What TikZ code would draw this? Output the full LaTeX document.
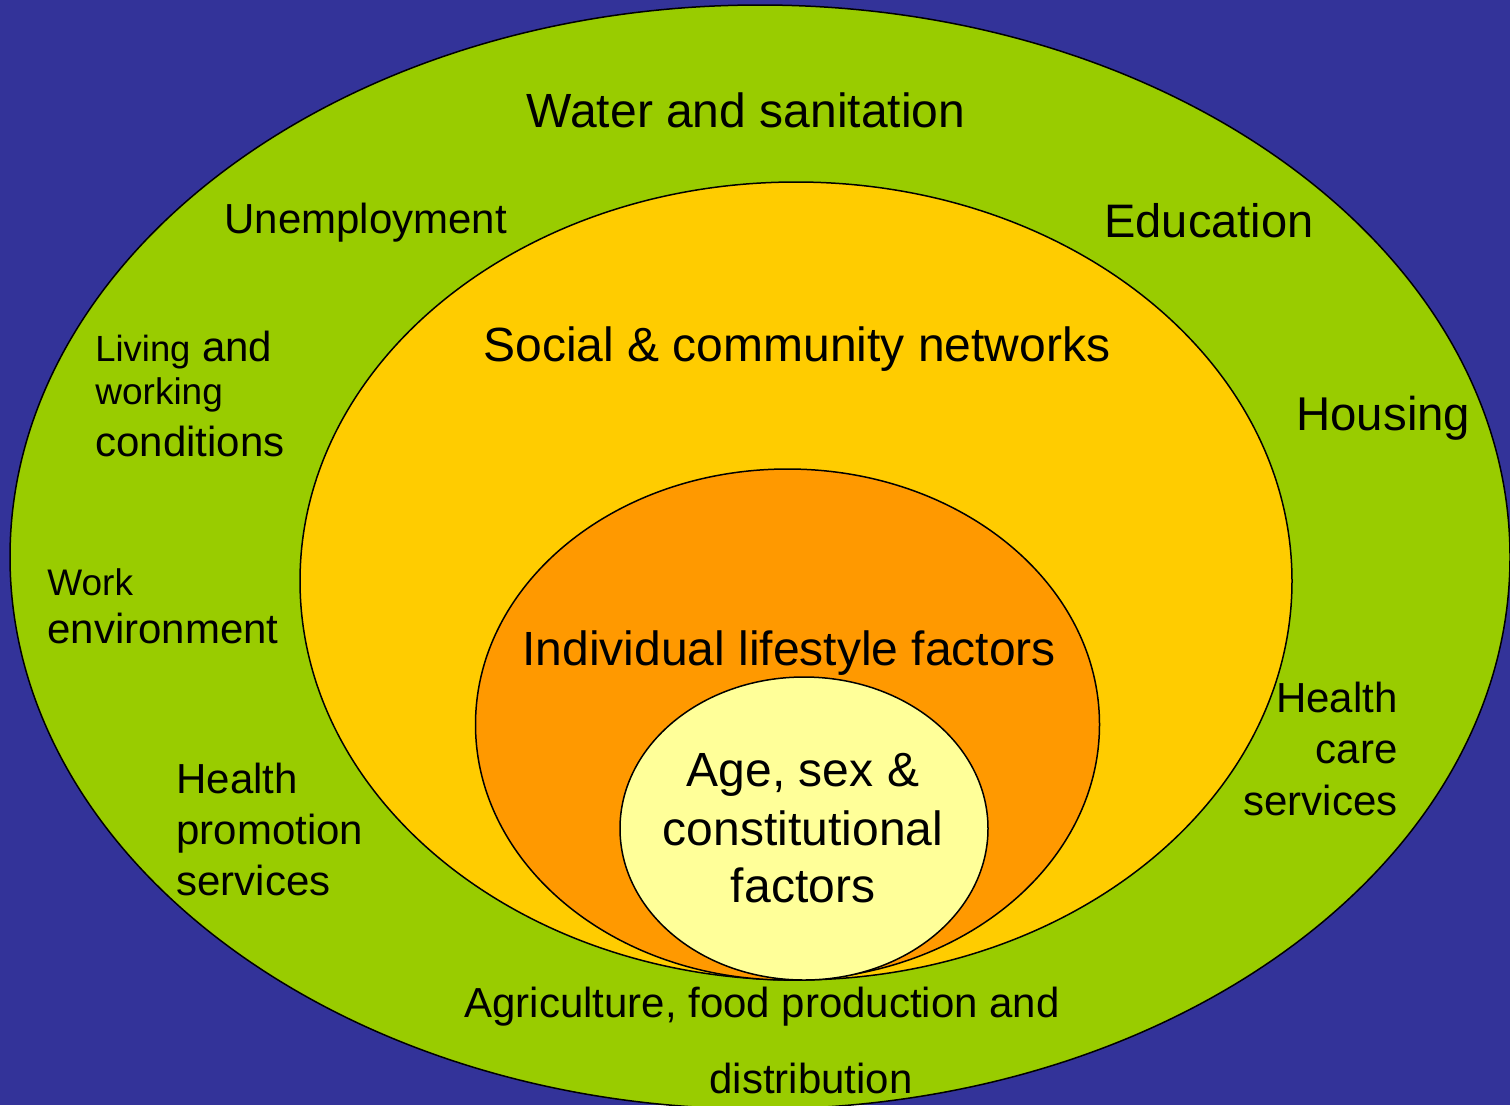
\documentclass[tikz,border=0pt]{standalone}
\usepackage{fontspec}
\setmainfont{Liberation Sans}
\usepackage{tikz}
\usepackage{xcolor}
\usetikzlibrary{
    shapes.geometric,
    positioning
}
\definecolor{bgblue}{HTML}{333399}
\definecolor{outgreen}{HTML}{99CC00}
\definecolor{midyellow}{HTML}{FFCC00}
\definecolor{inorange}{HTML}{FF9900}
\definecolor{coreyellow}{HTML}{FFFF99}
\newcommand{\fs}[2]{\fontsize{#1}{#2}\selectfont}

\begin{document}
\begin{tikzpicture}[x=0.5pt, y=-0.5pt,
        ring/.style={ellipse, draw=black, line width=0.75pt, inner sep=0pt},
        lbl/.style={inner sep=0pt, text=black}]
                        \useasboundingbox (0,0) rectangle (1510,1105);
                        \clip (0,0) rectangle (1510,1105);
                        \fill[bgblue] (0,0) rectangle (1510,1105);

                        \node[ring, fill=outgreen, minimum width=750pt, minimum height=552pt] (outer) at (760,557) {};
                        \node[ring, fill=midyellow, minimum width=496pt, minimum height=399pt] (comm) at (796,581) {};
                        \node[ring, fill=inorange, minimum width=312pt, minimum height=255.5pt] (life) at (787.5,724.5) {};
                        \node[ring, fill=coreyellow, minimum width=184pt, minimum height=151.5pt] (core) at (804,828.5) {};

                        % multi-line labels sit on the baseline of their last line
                        \node[lbl, anchor=base, font=\fs{24}{28}] (water) at (746,127) {Water and sanitation};
                        \node[lbl, anchor=base west, font=\fs{21}{25}] (unemp) at (224,233) {Unemployment};
                        \node[lbl, anchor=base west, font=\fs{23.5}{28}] (educ) at (1104,237) {Education};
                        \node[lbl, anchor=base west, font=\fs{24}{28}] (social) at (483,361) {Social \& community networks};
                        \node[lbl, anchor=base west, font=\fs{23.7}{28}] (housing) at (1296,430) {Housing};
                        \node[lbl, anchor=base west, font=\fs{21}{21.5}, align=left] (living) at (95,456)
                            {{\fs{18.2}{21.5}Living} and\\{\fs{18.5}{21.5}working}\\[4.5pt]conditions};
                        \node[lbl, anchor=base west, font=\fs{21}{24}, align=left] (work) at (47,643)
                            {{\fs{18.5}{24}Work}\\environment};
                        \node[lbl, anchor=base west, font=\fs{24}{28}] (indiv) at (522,665) {Individual lifestyle factors};
                        \node[lbl, anchor=base west, font=\fs{21}{25.5}, align=left] (hpromo) at (176,895)
                            {Health\\promotion\\services};
                        \node[lbl, anchor=base east, font=\fs{21}{25.75}, align=right] (hcare) at (1398,815)
                            {Health\\care\\services};
                        \node[lbl, anchor=base, font=\fs{24}{28.5}, align=center] (age) at (803,902)
                            {Age, sex \&\\[1pt]constitutional\\factors};
                        \node[lbl, anchor=base west, font=\fs{21}{38}, align=left] (agri) at (464,1093)
                            {Agriculture, food production and\\\hspace*{122.5pt}distribution};
                    \end{tikzpicture}
\end{document}
